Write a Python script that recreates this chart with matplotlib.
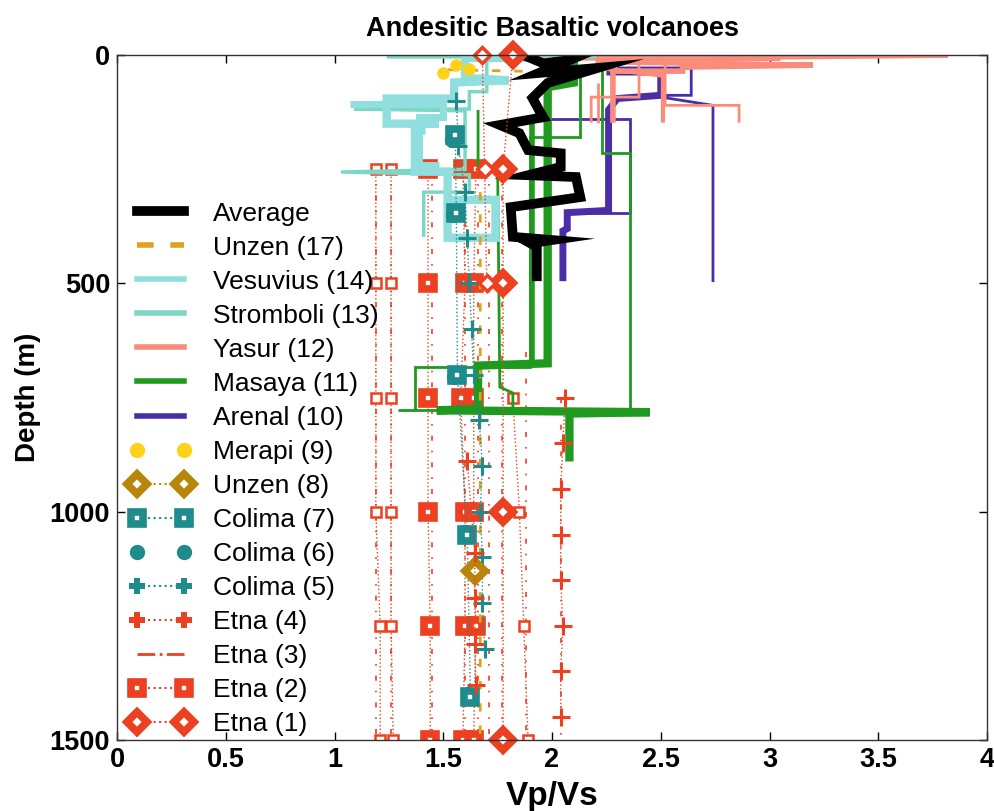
import numpy as np
import matplotlib
matplotlib.use('Agg')
from matplotlib import pyplot as plt
from matplotlib.lines import Line2D

plt.rcParams['font.family'] = ['Liberation Sans', 'DejaVu Sans']

''' colours '''
c_etna = '#EC4020'
c_colima = '#1E8C8C'
c_unzen8 = '#B8860B'
c_merapi = '#FFD21A'
c_arenal = '#4C2DA8'
c_masaya = '#1F9A1F'
c_yasur = '#FA8C7C'
c_strom = '#7CD8C4'
c_vesuv = '#90DEDE'
c_unzen17 = '#DDA21E'

''' data: Vp/Vs (v) vs depth in m (d) '''
# Average
avg_v = [1.87, 1.96, 2.08, 1.94, 2.21, 1.98, 1.91, 1.94, 1.96, 1.76, 1.85, 1.89, 2.04, 2.04,
         1.89, 2.11, 2.13, 1.81, 1.82, 2.00, 1.90, 1.93, 1.93]
avg_d = [0, 18, 11, 39, 28, 61, 94, 120, 136, 153, 171, 208, 215, 245,
         263, 267, 311, 333, 398, 405, 412, 420, 495]

# Unzen (17)
unz17_v = [1.52, 2.15, np.nan, 1.67, 1.67]
unz17_d = [32, 38, np.nan, 300, 1500]

# Vesuvius (14)
ves1_v = [2.00, 1.60, 1.60, 1.80, 1.55, 1.55, 1.24, 1.24, 1.48, 1.40, 1.40, 1.37, 1.37,
          1.52, 1.52, 1.74, 1.74, 1.52]
ves1_d = [6, 6, 50, 55, 60, 95, 95, 150, 150, 150, 165, 165, 255,
          255, 400, 400, 317, 317]
ves2_v = [1.07, 1.50, 1.50, 1.39, 1.39, 1.48]
ves2_d = [108, 108, 135, 135, 240, 240]

# Stromboli (13)
strom_v = [1.24, 2.20, 1.70, 1.70, 1.62, 1.62, 1.09, 1.60, 1.60, 1.03, 1.62, 1.62, 1.41, 1.41]
strom_d = [4, 4, 12, 80, 80, 118, 118, 122, 250, 256, 262, 300, 300, 398]

# Yasur (12)
yas1_v = [2.20, 3.20, 2.60, 2.60, 2.28, 2.28]
yas1_d = [14, 22, 26, 35, 35, 148]
yas2_v = [2.20, 3.82, 2.75, 2.52, 2.52, 2.86, 2.86]
yas2_d = [3, 3, 8, 20, 110, 110, 148]
yas3_v = [2.10, 3.05, 2.40, 2.40, 2.18, 2.18]
yas3_d = [9, 9, 14, 92, 92, 148]
yas4_v = [2.25, 2.51, 2.51]
yas4_d = [30, 45, 148]
yas5_v = [2.21, 2.21]
yas5_d = [60, 148]

# Masaya (11)
mas1_v = [2.10, 2.10, 1.98, 1.98, 1.66, 1.66, 1.47, 2.45, 2.08, 2.08]
mas1_d = [0, 60, 70, 675, 680, 775, 778, 782, 785, 890]
mas2_v = [2.23, 2.23, 2.36, 2.36, 1.29]
mas2_d = [20, 215, 215, 777, 777]
mas3_v = [2.13, 2.13, 1.90, 1.90, 1.37, 1.37]
mas3_d = [40, 180, 180, 683, 683, 780]
mas4_v = [1.66, 1.66, 1.75, 1.76, 1.82, 1.82]
mas4_d = [120, 250, 250, 727, 740, 780]
mas5_v = [1.91, 1.91]
mas5_d = [150, 675]

# Arenal (10)
are1_v = [2.25, 2.50, 2.50, 2.30, 2.26, 2.26, 2.07, 2.07, 2.05, 2.05]
are1_d = [37, 37, 88, 95, 120, 340, 345, 380, 385, 495]
are2_v = [2.30, 2.64, 2.64, 2.45, 2.74, 2.74]
are2_d = [28, 28, 88, 88, 110, 497]
are3_v = [1.98, 1.98, 2.36, 2.36, 2.08]
are3_d = [2, 140, 140, 345, 345]

# Merapi (9)
mer_v = [1.50, 1.56, 1.62]
mer_d = [40, 22, 30]

# Unzen (8)
unz8_v = [1.645]
unz8_d = [1130]

# Colima (7), (6), (5)
col7_v = [1.555, 1.56, 1.565, 1.61, 1.625]
col7_d = [175, 345, 700, 1050, 1405]
col6_v = [1.54, 1.545, 1.55, 1.60, 1.615]
col6_d = [185, 350, 705, 1045, 1400]
col5_v = [1.56, 1.57, 1.60, 1.61, 1.62, 1.63, 1.64, 1.665, 1.68, 1.67, 1.68, 1.68, 1.69]
col5_d = [100, 200, 300, 400, 500, 600, 700, 800, 900, 1000, 1100, 1200, 1300]

# Etna (4)
etna4a_v = [2.06, 2.05, 2.04, 2.04, 2.04, 2.05, 2.04, 2.04]
etna4a_d = [750, 850, 950, 1050, 1150, 1250, 1350, 1450]
etna4b_v = [1.61, 1.645, 1.645, 1.645, 1.65]
etna4b_d = [890, 1090, 1190, 1290, 1380]

# Etna (3)
etna3_v = [1.19, 1.26, 1.45, 1.60, 1.66, 1.71, 1.77, 1.88, 2.04]
etna3_top = [250, 250, 250, 250, 250, 250, 250, 650, 750]
etna3_bot = 1500

# Etna (2)
etna2_d = [250, 500, 750, 1000, 1250, 1500]
etna2_cols = [[1.19, 1.19, 1.19, 1.19, 1.21, 1.21],
              [1.26, 1.26, 1.26, 1.26, 1.26, 1.27],
              [1.43, 1.43, 1.43, 1.43, 1.44, 1.44],
              [1.59, 1.60, 1.58, 1.60, 1.60, 1.59],
              [1.65, 1.64, 1.64, 1.64, 1.65, 1.64],
              [np.nan, np.nan, 1.82, 1.85, 1.87, 1.89]]
etna2_big = [False, False, True, True, True, False]

# Etna (1)
etna1a_v = [1.82, 1.775, 1.775, 1.775, 1.775]
etna1a_d = [0, 250, 500, 1000, 1500]
etna1b_v = [1.68, 1.69, 1.70]
etna1b_d = [0, 250, 500]


fig = plt.figure(figsize=(9.95, 8.11), dpi=100)
ax = fig.add_axes([0.1176, 0.0876, 0.8744, 0.8444])

js = dict(solid_joinstyle='miter', solid_capstyle='butt')
sq_big = dict(marker='s', ms=9, mfc='white', mew=5.5)
dm_big = dict(marker='D', ms=10.5, mfc='white', mew=5.5)

# Etna (3) dashed verticals
for v, t in zip(etna3_v, etna3_top):
  ax.plot([v, v], [t, etna3_bot], color=c_etna, lw=1.2, ls=(0, (3, 6, 1, 6)))

# Etna (2)
for col, big in zip(etna2_cols, etna2_big):
  if big:
    ax.plot(col, etna2_d, color=c_etna, ls=':', lw=1, **sq_big)
  else:
    ax.plot(col, etna2_d, color=c_etna, ls=':', lw=1, marker='s', ms=7.5, mfc='white', mew=1.8)

# Arenal
ax.plot(are1_v, are1_d, color=c_arenal, lw=5, **js)
ax.plot(are2_v, are2_d, color=c_arenal, lw=2, **js)
ax.plot(are3_v, are3_d, color=c_arenal, lw=2, **js)

# Masaya
ax.plot(mas1_v, mas1_d, color=c_masaya, lw=6, **js)
ax.plot(mas2_v, mas2_d, color=c_masaya, lw=2, **js)
ax.plot(mas3_v, mas3_d, color=c_masaya, lw=2, **js)
ax.plot(mas4_v, mas4_d, color=c_masaya, lw=2, **js)
ax.plot(mas5_v, mas5_d, color=c_masaya, lw=4, **js)

# Yasur
ax.plot(yas1_v, yas1_d, color=c_yasur, lw=4, **js)
ax.plot(yas2_v, yas2_d, color=c_yasur, lw=2, **js)
ax.plot(yas3_v, yas3_d, color=c_yasur, lw=2, **js)
ax.plot(yas4_v, yas4_d, color=c_yasur, lw=3, **js)
ax.plot(yas5_v, yas5_d, color=c_yasur, lw=2, **js)

# Stromboli, Vesuvius
ax.plot(strom_v, strom_d, color=c_strom, lw=2.5, **js)
ax.plot(ves1_v, ves1_d, color=c_vesuv, lw=6, **js)
ax.plot(ves2_v, ves2_d, color=c_vesuv, lw=5, **js)

# Unzen (17)
ax.plot(unz17_v, unz17_d, color=c_unzen17, lw=2, ls=(0, (3, 5)))

# Average
ax.plot(avg_v, avg_d, color='black', lw=7, **js)

# Colima
ax.plot(col6_v, col6_d, color=c_colima, ls='none', marker='o', ms=10)
ax.plot(col7_v, col7_d, color=c_colima, ls=':', lw=1, **sq_big)
ax.plot(col5_v, col5_d, color=c_colima, ls=':', lw=1, marker='+', ms=13, mew=2.2)

# Unzen (8), Merapi
ax.plot(unz8_v, unz8_d, color=c_unzen8, ls=':', **dm_big)
ax.plot(mer_v, mer_d, color=c_merapi, ls='none', marker='o', ms=8)

# Etna (4), (1)
ax.plot(etna4a_v, etna4a_d, color=c_etna, ls=':', lw=1, marker='+', ms=13, mew=2.2)
ax.plot(etna4b_v, etna4b_d, color=c_etna, ls=':', lw=1, marker='+', ms=13, mew=2.2)
ax.plot(etna1a_v, etna1a_d, color=c_etna, ls=':', lw=1, clip_on=False, **dm_big)
ax.plot(etna1b_v, etna1b_d, color=c_etna, ls=':', lw=1, marker='D', ms=8, mfc='white', mew=2.5, clip_on=False)

ax.set_xlim(0, 4)
ax.set_ylim(1500, 0)
ax.set_xticks(np.arange(0, 4.01, 0.5))
ax.set_xticklabels(['0', '0.5', '1', '1.5', '2', '2.5', '3', '3.5', '4'])
ax.set_yticks([0, 500, 1000, 1500])
ax.tick_params(direction='in', top=True, right=True, length=6, width=1, pad=5)
for lab in ax.get_xticklabels() + ax.get_yticklabels():
  lab.set_fontweight('bold')
  lab.set_fontsize(19.5)
for sp in ax.spines.values():
  sp.set_linewidth(1)
  sp.set_color('#333333')

ax.set_title('Andesitic Basaltic volcanoes', fontsize=19.5, fontweight='bold', pad=14)
ax.set_xlabel('Vp/Vs', fontsize=24, fontweight='bold', labelpad=6)
ax.set_ylabel('Depth (m)', fontsize=20, fontweight='bold', labelpad=6)

''' legend '''
handles = [
  Line2D([], [], color='black', lw=7, label='Average'),
  Line2D([], [], color=c_unzen17, lw=4, ls=(0, (3, 3)), label='Unzen (17)'),
  Line2D([], [], color=c_vesuv, lw=4, label='Vesuvius (14)'),
  Line2D([], [], color=c_strom, lw=4, label='Stromboli (13)'),
  Line2D([], [], color=c_yasur, lw=4, label='Yasur (12)'),
  Line2D([], [], color=c_masaya, lw=4, label='Masaya (11)'),
  Line2D([], [], color=c_arenal, lw=4, label='Arenal (10)'),
  Line2D([], [], color=c_merapi, ls='none', marker='o', ms=10, label='Merapi (9)'),
  Line2D([], [], color=c_unzen8, ls=':', lw=1.5, label='Unzen (8)', **dm_big),
  Line2D([], [], color=c_colima, ls=':', lw=1.5, label='Colima (7)', **sq_big),
  Line2D([], [], color=c_colima, ls='none', marker='o', ms=10, label='Colima (6)'),
  Line2D([], [], color=c_colima, ls=':', lw=1.5, marker='P', ms=11, mew=0, label='Colima (5)'),
  Line2D([], [], color=c_etna, ls=':', lw=1.5, marker='P', ms=11, mew=0, label='Etna (4)'),
  Line2D([], [], color=c_etna, ls='-.', lw=2, label='Etna (3)'),
  Line2D([], [], color=c_etna, ls=':', lw=1.5, label='Etna (2)', **sq_big),
  Line2D([], [], color=c_etna, ls=':', lw=1.5, label='Etna (1)', **dm_big),
]
ax.legend(handles=handles, loc='lower left', bbox_to_anchor=(0.009, 0), borderaxespad=0.05,
          frameon=False, fontsize=19, numpoints=2, handlelength=2.4, handletextpad=0.8,
          labelspacing=0.38, borderpad=0.1)

fig.savefig('out.png', dpi=100)
